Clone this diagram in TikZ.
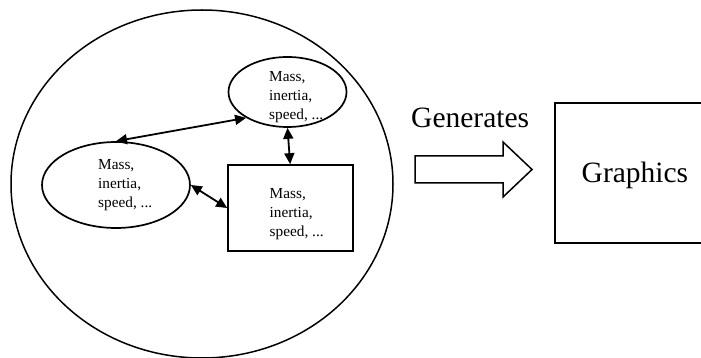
\documentclass[tikz,border=0pt]{standalone}
\usepackage{fontspec}
\setmainfont{Liberation Serif}
\usetikzlibrary{shapes.geometric,arrows.meta}

% three-line property list, baseline on the first line
\newcommand{\proplist}{\vtop{\baselineskip=19pt\hbox{Mass,}\hbox{inertia,}\hbox{speed, ...}}}

\tikzset{
  outline/.style={draw=black, line width=1.7pt},
  objoval/.style={outline, ellipse, inner sep=0pt},
  objbox/.style={outline, rectangle, inner sep=0pt},
  props/.style={anchor=base west, inner sep=0pt, font=\fontsize{15.3}{19}\selectfont},
  link/.style={line width=1.8pt, {Triangle[length=11pt,width=10pt]}-{Triangle[length=11pt,width=10pt]}},
  bigtext/.style={inner sep=0pt, anchor=base west, font=\fontsize{29.5}{34}\selectfont}
}

\begin{document}
\begin{tikzpicture}[x=1pt, y=-1pt]
  \clip (0,0) rectangle (701,358);
  \fill[white] (0,0) rectangle (701,358);

  % the simulated world
  \node[draw=black, line width=1.5pt, ellipse, inner sep=0pt,
        minimum width=382pt, minimum height=348pt] (world) at (202,184) {};

  % objects with their physical properties
  \node[objoval, minimum width=118pt, minimum height=70pt] (top) at (287.5,92) {};
  \node[objoval, minimum width=148pt, minimum height=86pt] (left) at (116,185) {};
  \node[objbox, minimum width=125pt, minimum height=86pt] (box) at (290.5,208) {};

  \node[props] (toptext) at (269,82) {\proplist};
  \node[props] (lefttext) at (98,170) {\proplist};
  \node[props] (boxtext) at (269.5,198) {\proplist};

  % interactions between the objects
  \draw[link] (top.212) -- (left.north);
  \draw[link] (top.south) -- ([xshift=63pt]box.north west);
  \draw[link] (left.east) -- (box.west);

  % block arrow
  \draw[line width=1.5pt, line join=miter]
    (415,156) -- (503,156) -- (503,142) -- (532,169.5) -- (503,197)
    -- (503,183) -- (415,183) -- cycle;
  \node[bigtext] (gen) at (411,128) {Generates};

  % output
  \node[draw=black, line width=1.4pt, minimum width=160pt, minimum height=140pt,
        inner sep=0pt] (gfx) at (635,173) {};
  \node[bigtext] (gfxtext) at (581.5,183) {Graphics};
\end{tikzpicture}
\end{document}
